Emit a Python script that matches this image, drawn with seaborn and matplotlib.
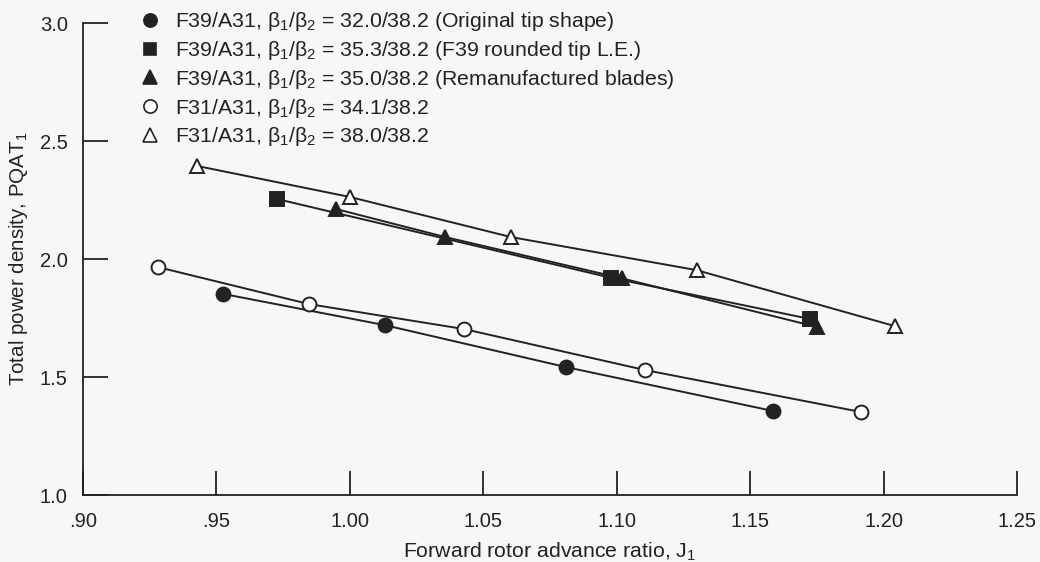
import matplotlib
matplotlib.use("Agg")
import matplotlib.pyplot as plt
import seaborn as sns
import pandas as pd
from matplotlib.lines import Line2D

# ---- data ----
fc_x = [0.9526, 1.013, 1.081, 1.1586]
fc_y = [1.852, 1.720, 1.542, 1.356]

fs_x = [0.9728, 1.098, 1.1724]
fs_y = [2.254, 1.920, 1.746]

ft_x = [0.9948, 1.0358, 1.102, 1.175]
ft_y = [2.212, 2.093, 1.918, 1.712]

oc_x = [0.928, 0.9847, 1.0429, 1.1104, 1.1914]
oc_y = [1.966, 1.809, 1.703, 1.530, 1.352]

ot_x = [0.9429, 1.000, 1.0604, 1.1299, 1.2041]
ot_y = [2.394, 2.263, 2.093, 1.953, 1.716]

labels = [
    "F39/A31, β$_1$/β$_2$ = 32.0/38.2 (Original tip shape)",
    "F39/A31, β$_1$/β$_2$ = 35.3/38.2 (F39 rounded tip L.E.)",
    "F39/A31, β$_1$/β$_2$ = 35.0/38.2 (Remanufactured blades)",
    "F31/A31, β$_1$/β$_2$ = 34.1/38.2",
    "F31/A31, β$_1$/β$_2$ = 38.0/38.2",
]
x_ticks = [0.90, 0.95, 1.00, 1.05, 1.10, 1.15, 1.20, 1.25]
x_ticklabels = [".90", ".95", "1.00", "1.05", "1.10", "1.15", "1.20", "1.25"]
y_ticks = [1.0, 1.5, 2.0, 2.5, 3.0]
y_ticklabels = ["1.0", "1.5", "2.0", "2.5", "3.0"]

# ---- style ----
sns.set_theme(style="white")
bg = "#f7f7f7"
ink = "#222222"
plt.rcParams["font.family"] = ["Liberation Sans", "DejaVu Sans"]
plt.rcParams["mathtext.fontset"] = "custom"
plt.rcParams["mathtext.rm"] = "Liberation Sans"
plt.rcParams["mathtext.it"] = "Liberation Sans:italic"
plt.rcParams["mathtext.bf"] = "Liberation Sans:bold"

fig = plt.figure(figsize=(10.4, 5.62), dpi=100, facecolor=bg)
ax = fig.add_axes([0.0798, 0.1192, 0.8982, 0.8398])
ax.set_facecolor(bg)

series = [
    (fc_x, fc_y, "o", ink),
    (fs_x, fs_y, "s", ink),
    (ft_x, ft_y, "^", ink),
    (oc_x, oc_y, "o", "white"),
    (ot_x, ot_y, "^", "white"),
]
sizes = {"o": 10, "s": 9.5, "^": 10}

handles = []
for (xs, ys, m, face), lab in zip(series, labels):
    df = pd.DataFrame({"x": xs, "y": ys})
    sns.lineplot(data=df, x="x", y="y", ax=ax, sort=False, color=ink,
                 linewidth=1.4, marker=m, markersize=sizes[m],
                 markerfacecolor=face, markeredgecolor=ink,
                 markeredgewidth=1.4, legend=False, zorder=3)
    handles.append(Line2D([], [], linestyle="none", marker=m,
                          markersize=sizes[m] * 0.95, markerfacecolor=face,
                          markeredgecolor=ink, markeredgewidth=1.2, label=lab))

ax.set_xlim(0.90, 1.25)
ax.set_ylim(1.0, 3.0)
ax.set_xticks(x_ticks)
ax.set_xticklabels(x_ticklabels)
ax.set_yticks(y_ticks)
ax.set_yticklabels(y_ticklabels)

for s in ["top", "right"]:
    ax.spines[s].set_visible(False)
for s in ["left", "bottom"]:
    ax.spines[s].set_color(ink)
    ax.spines[s].set_linewidth(1.3)

ax.tick_params(axis="x", bottom=True, direction="in", length=17, width=1.3,
               color=ink, labelsize=14.5, labelcolor=ink, pad=12)
ax.tick_params(axis="y", left=True, direction="in", length=18, width=1.3,
               color=ink, labelsize=14.5, labelcolor=ink, pad=11)

ax.set_xlabel("Forward rotor advance ratio, J$_1$", fontsize=15.3, color=ink,
              labelpad=7)
ax.set_ylabel("Total power density, PQAT$_1$", fontsize=14.8, color=ink,
              labelpad=7)

leg = ax.legend(handles=handles, loc="upper left",
                bbox_to_anchor=(0.053, 1.045), frameon=False, fontsize=15.3,
                handlelength=0.8, handletextpad=0.8, labelspacing=0.27,
                borderaxespad=0)
for t in leg.get_texts():
    t.set_color(ink)

fig.savefig("out.png", dpi=100, facecolor=bg)
